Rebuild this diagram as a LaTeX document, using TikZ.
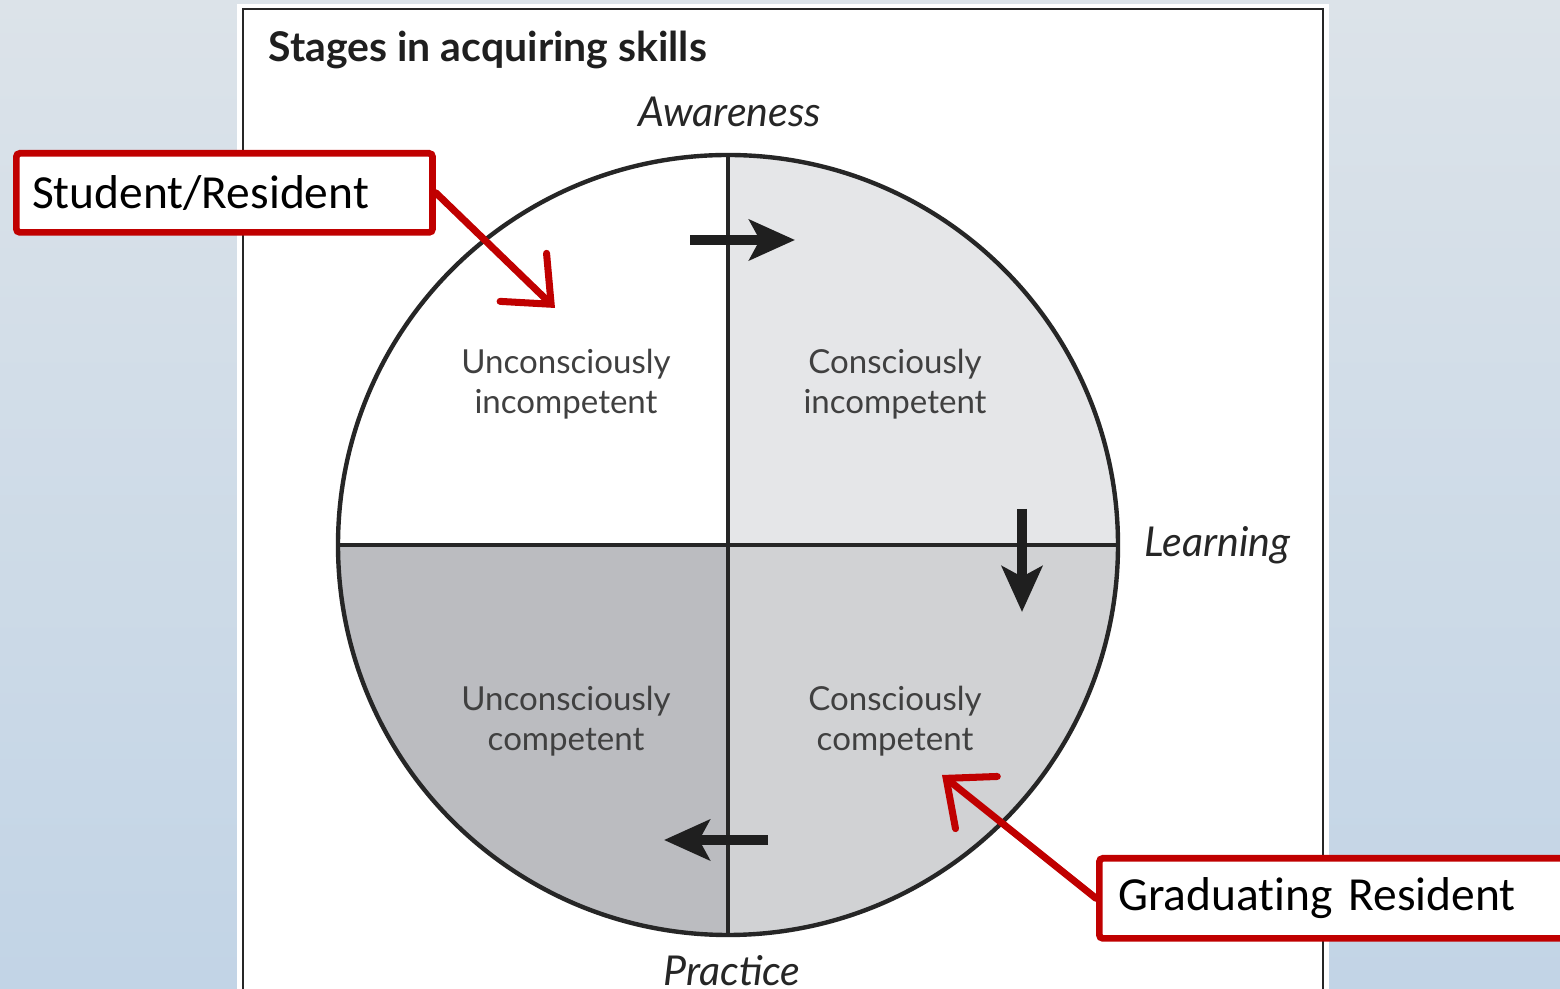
\documentclass[tikz,border=0pt]{standalone}
\usepackage{fontspec}
\setmainfont{Lato}
\newfontfamily\calloutfont[Ligatures=NoCommon]{Carlito}
\usetikzlibrary{arrows.meta}
\definecolor{fondhaut}{HTML}{DCE3E9}
\definecolor{fondbas}{HTML}{C2D4E6}
\definecolor{rouge}{HTML}{C00000}
\definecolor{quadA}{HTML}{FFFFFF}
\definecolor{quadB}{HTML}{E5E6E8}
\definecolor{quadC}{HTML}{D1D2D4}
\definecolor{quadD}{HTML}{BBBCC0}
\begin{document}
\begin{tikzpicture}[x=0.01cm,y=-0.01cm]
			\tikzstyle{quadtexte}=[align=center,text=black!75,font=\fontsize{9.4}{11.4}\selectfont]
			\tikzstyle{axe}=[inner sep=0pt,font=\fontsize{11.7}{13}\selectfont\itshape,text=black!85]
			\tikzstyle{fleche}=[line width=2.8pt,-{Stealth[length=13pt,width=11.5pt,inset=3pt]},black!88]
			\tikzstyle{bulle}=[draw=rouge,line width=1.9pt,fill=white,rounded corners=1pt,inner sep=0pt,
				font=\calloutfont\fontsize{13.5}{16}\selectfont]
			\tikzstyle{renvoi}=[draw=rouge,line width=2pt,line cap=round,line join=round,
				-{Straight Barb[length=11pt,width=19pt,line cap=round]}]
			\def\Cx{728}
			\def\Cy{545}
			\def\Rayon{390}
			\useasboundingbox (0,0) rectangle (1560,989);
			% fond et cadre
			\shade[top color=fondhaut,bottom color=fondbas] (0,0) rectangle (1560,989);
			\fill[white] (237,4) rectangle (1329,989);
			\draw[line width=0.7pt,black!85] (243,995) -- (243,9) -- (1323,9) -- (1323,995);
			\node[anchor=base west,inner sep=0pt,font=\fontsize{11.65}{14}\selectfont\bfseries,text=black!88] (titre) at (268,62) {Stages in acquiring skills};
			% les quatre quadrants
			\begin{scope}
				\clip (\Cx,\Cy) circle[radius=\Rayon];
				\fill[quadA] (\Cx,\Cy) rectangle ({\Cx-\Rayon},{\Cy-\Rayon});
				\fill[quadB] (\Cx,\Cy) rectangle ({\Cx+\Rayon},{\Cy-\Rayon});
				\fill[quadC] (\Cx,\Cy) rectangle ({\Cx+\Rayon},{\Cy+\Rayon});
				\fill[quadD] (\Cx,\Cy) rectangle ({\Cx-\Rayon},{\Cy+\Rayon});
			\end{scope}
			\coordinate (C) at (\Cx,\Cy);
			\coordinate (N) at (\Cx,{\Cy-\Rayon});
			\coordinate (S) at (\Cx,{\Cy+\Rayon});
			\coordinate (O) at ({\Cx-\Rayon},\Cy);
			\coordinate (E) at ({\Cx+\Rayon},\Cy);
			\draw[line width=1.1pt,black!85] (N) -- (S);
			\draw[line width=1.1pt,black!85] (O) -- (E);
			\draw[line width=1.25pt,black!85] (C) circle[radius=\Rayon];
			% textes
			\node[quadtexte] (ui) at (566,384) {Unconsciously\\incompetent};
			\node[quadtexte] (ci) at (895,384) {Consciously\\incompetent};
			\node[quadtexte] (uc) at (566,721) {Unconsciously\\competent};
			\node[quadtexte] (cc) at (895,721) {Consciously\\competent};
			\node[axe] (aware) at (730,112) {Awareness};
			\node[axe,anchor=west] (learn) at (1144,545) {Learning};
			\node[axe] (pract) at (732,971) {Practice};
			% fleches du cycle
			\coordinate (fa1) at (690,240);
			\coordinate (fa2) at (795,240);
			\coordinate (fb1) at (1022,509);
			\coordinate (fb2) at (1022,612);
			\coordinate (fc1) at (768,840);
			\coordinate (fc2) at (664,840);
			\draw[fleche] (fa1) -- (fa2);
			\draw[fleche] (fb1) -- (fb2);
			\draw[fleche] (fc1) -- (fc2);
			% bulles
			\node[bulle,anchor=north west,minimum width=4.16cm,minimum height=0.79cm,text width=4.0cm,align=left] (etud) at (13,150) {\hspace*{2.2pt}Student/Resident};
			\node[bulle,anchor=north west,minimum width=4.7cm,minimum height=0.80cm,text width=4.5cm,align=left] (grad) at (1096,855) {\hspace*{2.5pt}Graduating Resident};
			\coordinate (pe) at (555,308);
			\coordinate (pg) at (942,775);
			\draw[renvoi] (etud.east) -- (pe);
			\draw[renvoi] (grad.west) -- (pg);
\end{tikzpicture}
\end{document}
